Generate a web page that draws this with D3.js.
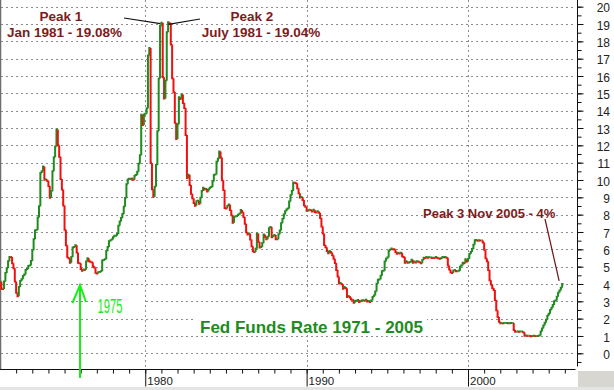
<!DOCTYPE html>
<html><head><meta charset="utf-8">
<script src="https://cdn.jsdelivr.net/npm/d3@7"></script>
<style>
html,body{margin:0;padding:0;background:#fff;}
svg{display:block;}
</style></head>
<body>
<script>
// Monthly effective Fed Funds rate, Jan 1971 .. Nov 2005
const startYear = 1971;
const rates1970s = [
 4.14,3.72,3.71,4.15,4.63,4.91,5.31,5.56,5.55,5.20,4.91,4.14,
 3.50,3.29,3.83,4.17,4.27,4.46,4.55,4.80,4.87,5.04,5.06,5.33,
 5.94,6.58,7.09,7.12,7.84,8.49,10.40,10.50,10.78,10.01,10.03,9.95,
 9.65,8.97,9.35,10.51,11.31,11.93,12.92,12.01,11.34,10.06,9.45,8.53,
 7.13,6.24,5.54,5.49,5.22,5.55,6.10,6.14,6.24,5.82,5.22,5.20,
 4.87,4.77,4.84,4.82,5.29,5.48,5.31,5.29,5.25,5.02,4.95,4.65,
 4.61,4.68,4.69,4.73,5.35,5.39,5.42,5.90,6.14,6.47,6.51,6.56,
 6.70,6.78,6.79,6.89,7.36,7.60,7.81,8.04,8.45,8.96,9.76,10.03,
 10.07,10.06,10.09,10.01,10.24,10.29,10.47,10.94,11.43,13.77,13.18,13.78
];
const rates1980s = [
 13.82,14.13,17.19,17.61,10.98,9.47,9.03,9.61,10.87,12.81,15.85,18.90,
 19.08,15.93,14.70,15.72,18.52,19.10,19.04,17.82,15.87,15.08,13.31,12.37,
 13.22,14.78,14.68,14.94,14.45,14.15,12.59,10.12,10.31,9.71,9.20,8.95,
 8.68,8.51,8.77,8.80,8.63,8.98,9.37,9.56,9.45,9.48,9.34,9.47,
 9.56,9.59,9.91,10.29,10.32,11.06,11.23,11.64,11.30,9.99,9.43,8.38,
 8.35,8.50,8.58,8.27,7.97,7.53,7.88,7.90,7.92,7.99,8.05,8.27,
 8.14,7.86,7.48,6.99,6.85,6.92,6.56,6.17,5.89,5.85,6.04,6.91,
 6.43,6.10,6.13,6.37,6.85,6.73,6.58,6.73,7.22,7.29,6.69,6.77,
 6.83,6.58,6.58,6.87,7.09,7.51,7.75,8.01,8.19,8.30,8.35,8.76,
 9.12,9.36,9.85,9.84,9.81,9.53,9.24,8.99,9.02,8.84,8.55,8.45
];
const rates1990s = [
 8.23,8.24,8.28,8.26,8.18,8.29,8.15,8.13,8.20,8.11,7.81,7.31,
 6.91,6.25,6.12,5.91,5.78,5.90,5.82,5.66,5.45,5.21,4.81,4.43,
 4.03,4.06,3.98,3.73,3.82,3.76,3.25,3.30,3.22,3.10,3.09,2.92,
 3.02,3.03,3.07,2.96,3.00,3.04,3.06,3.03,3.09,2.99,3.02,2.96,
 3.05,3.25,3.34,3.56,4.01,4.25,4.26,4.47,4.73,4.76,5.29,5.45,
 5.53,5.92,5.98,6.05,6.01,6.00,5.85,5.74,5.80,5.76,5.80,5.60,
 5.56,5.22,5.31,5.22,5.24,5.27,5.40,5.22,5.30,5.24,5.31,5.29,
 5.25,5.19,5.39,5.51,5.50,5.56,5.52,5.54,5.54,5.50,5.52,5.50,
 5.56,5.51,5.49,5.45,5.49,5.56,5.54,5.55,5.51,5.07,4.83,4.68,
 4.63,4.76,4.81,4.74,4.74,4.76,4.99,5.07,5.22,5.20,5.42,5.30
];
const rates2000s = [
 5.45,5.73,5.85,6.02,6.27,6.53,6.54,6.50,6.52,6.51,6.51,6.40,
 5.98,5.49,5.31,4.80,4.21,3.97,3.77,3.65,3.07,2.49,2.09,1.82,
 1.73,1.74,1.73,1.75,1.75,1.75,1.73,1.74,1.75,1.75,1.34,1.24,
 1.24,1.26,1.25,1.26,1.26,1.22,1.01,1.03,1.01,1.01,1.00,0.98,
 1.00,1.01,1.00,1.00,1.00,1.03,1.26,1.43,1.61,1.76,1.93,2.16,
 2.28,2.50,2.63,2.79,3.00,3.04,3.26,3.50,3.62,3.78,4.00
];
const yTickValues = d3.range(0, 21);
const yMinorValues = d3.range(-0.5, 20.01, 0.5);
const xMajorYears = [1980, 1990, 2000];
const xMinorYears = d3.range(1972, 2007);
const chartTitle = "Fed Funds Rate 1971 - 2005";
const peak1 = ["Peak 1", "Jan 1981 - 19.08%"];
const peak2 = ["Peak 2", "July 1981 - 19.04%"];
const peak3 = "Peak 3 Nov 2005 - 4%";
const arrowLabel = "1975";

const W = 614, H = 390;
const rates = [].concat(rates1970s, rates1980s, rates1990s, rates2000s);
const svg = d3.select("body").append("svg").attr("width", W).attr("height", H)
  .style("font-family", "'Liberation Sans', Arial, sans-serif");

const x = d3.scaleLinear().domain([1971, 2000]).range([0, 468]);
const y = d3.scaleLinear().domain([0, 20]).range([353.3, 6.7]);
const plotRight = 577.5, plotBottom = 369.5;

// background pieces
svg.append("rect").attr("x", 0).attr("y", 0).attr("width", W).attr("height", H).attr("fill", "#fff");
svg.append("rect").attr("x", 578).attr("y", 371).attr("width", W - 578).attr("height", H - 371).attr("fill", "#d8d6d0");
svg.append("rect").attr("x", 0).attr("y", 387).attr("width", W).attr("height", 3).attr("fill", "#e4e4e4");

// gridlines
const grid = svg.append("g").attr("stroke", "#8c8c8c").attr("stroke-width", 1).attr("stroke-dasharray", "2,3");
grid.selectAll("line.h").data(yTickValues).join("line").attr("class", "h")
  .attr("x1", 1).attr("x2", plotRight - 2)
  .attr("y1", d => Math.round(y(d)) + 0.5).attr("y2", d => Math.round(y(d)) + 0.5);
grid.selectAll("line.v").data(xMajorYears).join("line").attr("class", "v")
  .attr("x1", d => Math.round(x(d)) + 0.5).attr("x2", d => Math.round(x(d)) + 0.5)
  .attr("y1", 0).attr("y2", plotBottom);

// white boxes behind labels
svg.append("rect").attr("x", 195).attr("y", 307).attr("width", 232).attr("height", 27).attr("fill", "#fff");
svg.append("rect").attr("x", 93).attr("y", 291).attr("width", 50).attr("height", 25).attr("fill", "#fff");

// frame lines
svg.append("line").attr("x1", 0.5).attr("x2", 0.5).attr("y1", 0).attr("y2", plotBottom).attr("stroke", "#6e6e6e").attr("stroke-width", 1.5);

// right axis
const yMinorAxis = d3.axisRight(y).tickValues(yMinorValues).tickSize(4).tickFormat("");
const gyMinor = svg.append("g").attr("transform", `translate(${plotRight},0)`).call(yMinorAxis);
gyMinor.select(".domain").remove();
const yAxis = d3.axisRight(y).tickValues(yTickValues).tickSize(6).tickPadding(4).tickFormat(d3.format("d"));
const gy = svg.append("g").attr("transform", `translate(${plotRight},0)`).call(yAxis);
gy.select(".domain").remove();
gy.selectAll("text").attr("x", 32.5).attr("text-anchor", "end").attr("dy", "0.42em")
  .attr("font-size", 12).attr("fill", "#222").attr("font-family", "'Liberation Sans', Arial, sans-serif");
svg.selectAll(".tick line").attr("stroke", "#111");
svg.append("line").attr("x1", plotRight).attr("x2", plotRight).attr("y1", 0).attr("y2", plotBottom - 3).attr("stroke", "#111");

// bottom axis
const xMinorAxis = d3.axisBottom(x).tickValues(xMinorYears).tickSize(4).tickFormat("");
const gxMinor = svg.append("g").attr("transform", `translate(0,${plotBottom})`).call(xMinorAxis);
gxMinor.select(".domain").remove();
const xAxis = d3.axisBottom(x).tickValues(xMajorYears).tickSize(17).tickFormat(d3.format("d"));
const gx = svg.append("g").attr("transform", `translate(0,${plotBottom})`).call(xAxis);
gx.select(".domain").remove();
gx.selectAll("text").attr("x", 1.5).attr("y", 15).attr("dy", 0).attr("text-anchor", "start")
  .attr("font-size", 11.5).attr("fill", "#222").attr("font-family", "'Liberation Sans', Arial, sans-serif");
svg.selectAll(".tick line").attr("stroke", "#111");
svg.append("line").attr("x1", 0).attr("x2", plotRight - 2).attr("y1", plotBottom).attr("y2", plotBottom).attr("stroke", "#111");

// data: step segments coloured by direction
const monthDate = i => startYear + i / 12;
const segs = rates.map((v, i) => {
  const prev = i === 0 ? v : rates[i - 1];
  const xEnd = i === rates.length - 1 ? x(monthDate(i)) + 1.4 : x(monthDate(i + 1));
  return {
    d: `M${x(monthDate(i))},${y(prev)}V${y(v)}H${xEnd}`,
    up: v >= prev
  };
});
svg.append("g").attr("fill", "none").attr("stroke-width", 2).attr("stroke-linejoin", "miter")
  .selectAll("path").data(segs).join("path")
  .attr("d", d => d.d)
  .attr("stroke", d => d.up ? "#1f8c1f" : "#f01010");

// title
svg.append("text").attr("x", 200).attr("y", 333).attr("font-size", 17).attr("font-weight", "bold")
  .attr("fill", "#1e8c1e").text(chartTitle);

// peak annotations
const peakColor = "#7d1c1c";
svg.append("text").attr("x", 61).attr("y", 20.5).attr("text-anchor", "middle").attr("font-size", 13.5)
  .attr("font-weight", "bold").attr("fill", peakColor).text(peak1[0]);
svg.append("text").attr("x", 64.5).attr("y", 36.5).attr("text-anchor", "middle").attr("font-size", 13.5)
  .attr("font-weight", "bold").attr("fill", peakColor).text(peak1[1]);
svg.append("text").attr("x", 252).attr("y", 20.5).attr("text-anchor", "middle").attr("font-size", 13.5)
  .attr("font-weight", "bold").attr("fill", peakColor).text(peak2[0]);
svg.append("text").attr("x", 261).attr("y", 36.5).attr("text-anchor", "middle").attr("font-size", 13.5)
  .attr("font-weight", "bold").attr("fill", peakColor).text(peak2[1]);
svg.append("text").attr("x", 423).attr("y", 217.5).attr("font-size", 13).attr("font-weight", "bold")
  .attr("fill", peakColor).text(peak3);

const i81 = 120, i81b = 126, i05 = rates.length - 1;
svg.append("line").attr("x1", 124).attr("y1", 18).attr("x2", x(monthDate(i81)) - 1).attr("y2", y(rates[i81]) + 1)
  .attr("stroke", "#111").attr("stroke-width", 1.2);
svg.append("line").attr("x1", x(monthDate(i81b)) - 1).attr("y1", y(rates[i81b]) + 1).attr("x2", 200).attr("y2", 19)
  .attr("stroke", "#111").attr("stroke-width", 1.2);
svg.append("line").attr("x1", 545).attr("y1", 219).attr("x2", x(monthDate(i05)) - 3).attr("y2", y(rates[i05]) - 3)
  .attr("stroke", "#6e1414").attr("stroke-width", 1.2);

// 1975 arrow
const arrowX = 80, arrowColor = "#16ee16";
const arrow = svg.append("g").attr("stroke", arrowColor).attr("stroke-width", 2).attr("fill", "none");
arrow.append("line").attr("x1", arrowX).attr("x2", arrowX).attr("y1", 285).attr("y2", 378);
arrow.append("path").attr("d", `M${arrowX - 7.5},303L${arrowX},285L${arrowX + 6},302`);
svg.append("text").attr("x", 97.5).attr("y", 312.5).attr("font-size", 20)
  .attr("textLength", 25).attr("lengthAdjust", "spacingAndGlyphs")
  .attr("fill", arrowColor).text(arrowLabel);
</script>
</body></html>
